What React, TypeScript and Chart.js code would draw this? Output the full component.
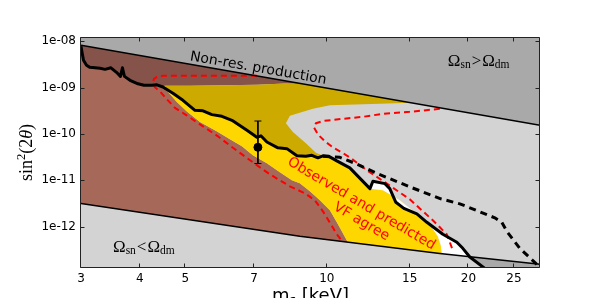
import React, { useEffect, useRef } from "react";
import { Chart, registerables } from "chart.js";

Chart.register(...registerables);

// ---------- axes ----------
const xMin = 3;
const xMax = 28.4;
const yMin = 1.27e-13;
const yMax = 1.24e-8;
const xTickValues = [3, 4, 5, 7, 10, 15, 20, 25];
const yTickValues = [1e-8, 1e-9, 1e-10, 1e-11, 1e-12];
const yTickLabels = ["1e-08", "1e-09", "1e-10", "1e-11", "1e-12"];

// ---------- boundary lines ----------
const topLineX = [3, 28.4];
const topLineY = [8.2e-9, 1.533e-10];

const lowLineX = [3, 8.76, 17.39, 28.4];
const lowLineY = [3.13e-12, 6.14e-13, 2.6e-13, 1.53e-13];

const xrayX = [3.0, 3.015, 3.037, 3.082, 3.134, 3.293, 3.374, 3.474, 3.569, 3.639, 3.675, 3.711, 3.814, 3.966, 4.083, 4.246, 4.352, 4.481, 4.706, 4.942, 5.242, 5.451, 5.696, 5.982, 6.283, 6.761, 7.099, 7.24, 7.455, 7.868, 8.222, 8.636, 9.024, 9.294, 9.57, 9.808, 10.1, 10.5, 11.19, 12.35, 12.53, 13.29, 13.61, 14.02, 14.58, 15.54, 16.32, 17.65, 18.9, 19.46, 20.14, 22.21];
const xrayY = [7.8e-9, 5.79e-9, 3.89e-9, 3.03e-9, 2.74e-9, 2.61e-9, 2.48e-9, 2.68e-9, 2.14e-9, 1.75e-9, 2.68e-9, 1.75e-9, 1.44e-9, 1.21e-9, 1.121e-9, 1.121e-9, 1.15e-9, 1.03e-9, 7.53e-10, 5.32e-10, 3.23e-10, 3.15e-10, 2.61e-10, 2.4e-10, 1.97e-10, 1.196e-10, 8.45e-11, 9.1e-11, 6.68e-11, 5.01e-11, 4.81e-11, 3.37e-11, 3.28e-11, 3.45e-11, 3.05e-11, 3.37e-11, 3.28e-11, 2.62e-11, 1.85e-11, 6.58e-12, 9.47e-12, 8.44e-12, 6.58e-12, 3.33e-12, 2.47e-12, 1.88e-12, 1.232e-12, 6.79e-13, 4.56e-13, 3.38e-13, 2.19e-13, 1.03e-13];

// ---------- region edges ----------
const yellowTopX = [4.525, 5.115, 6.071, 7.099, 8.141, 8.848];
const yellowTopY = [1.094e-9, 1.094e-9, 1.121e-9, 1.149e-9, 1.227e-9, 1.207e-9];
const yellowTopMeetX = 15.01; // where the pale-grey region meets the top line

const grayEdgeX = [12.96, 10.15, 9.339, 8.343, 8.182, 8.468, 9.024, 9.478];
const grayEdgeY = [4.51e-10, 4.15e-10, 3.48e-10, 2.46e-10, 1.694e-10, 1.099e-10, 6.27e-11, 3.91e-11];

const brownEdgeX = [4.525, 4.592, 4.792, 5.031, 5.372, 5.83, 6.222, 6.597, 6.96, 7.455, 7.945, 8.427, 8.76, 9.203, 9.665, 10.15, 10.5, 10.76, 11.08];
const brownEdgeY = [1.094e-9, 8.11e-10, 4.93e-10, 3.08e-10, 1.807e-10, 1.138e-10, 7.64e-11, 5.4e-11, 3.45e-11, 2.32e-11, 1.481e-11, 9.95e-12, 8.57e-12, 5.76e-12, 3.68e-12, 2.24e-12, 1.232e-12, 7.87e-13, 4.57e-13];

const whiteEdgeX = [13.16, 14.3, 15.62, 16.64, 17.22, 17.47, 17.56];
const whiteEdgeY = [6.05e-12, 3.68e-12, 1.789e-12, 1.01e-12, 6.14e-13, 3.93e-13, 2.57e-13];

// ---------- contours ----------
const red1X = [7.1, 4.48, 4.352, 4.289, 4.268, 4.309, 4.416, 4.57, 4.752, 5.014, 5.451, 5.867, 6.313, 6.96, 7.565, 8.343, 8.98, 9.43, 9.808, 10.2, 10.5, 10.82];
const red1Y = [1.798e-9, 1.798e-9, 1.711e-9, 1.549e-9, 1.301e-9, 1.015e-9, 8.32e-10, 5.59e-10, 3.66e-10, 2.585e-10, 1.459e-10, 8.87e-11, 5.01e-11, 2.435e-11, 1.341e-11, 7.38e-12, 5.22e-12, 3.68e-12, 2.13e-12, 1.115e-12, 6.79e-13, 4.56e-13];

const red2X = [17.39, 15.01, 13.16, 11.93, 10.82, 9.808, 9.478, 9.385, 9.57, 9.904, 10.3, 11.19, 12.17, 13.42, 15.01, 16.8, 17.39, 17.99, 18.26, 18.53];
const red2Y = [3.48e-10, 3.0e-10, 2.72e-10, 2.34e-10, 2.12e-10, 1.9e-10, 1.694e-10, 1.388e-10, 9.8e-11, 6.92e-11, 5.14e-11, 3.12e-11, 1.636e-11, 8.44e-12, 3.87e-12, 1.361e-12, 9.61e-13, 6.79e-13, 4.56e-13, 3.06e-13];

const blackDashX = [9.808, 10.66, 11.47, 12.84, 15.09, 17.47, 19.18, 21.15, 22.76, 23.56, 24.14, 25.72, 27.96];
const blackDashY = [3.28e-11, 3.12e-11, 2.32e-11, 1.374e-11, 7.03e-12, 3.96e-12, 3.09e-12, 2.08e-12, 1.541e-12, 1.232e-12, 7.87e-13, 3.38e-13, 1.527e-13];

// ---------- measurement ----------
const pointX = 7.135;
const pointY = 5.14e-11;
const errLow = 2.29e-11;
const errHigh = 1.9e-10;

// ---------- annotations ----------
const nonResText = "Non-res. production";
const nonResX = 7.1;
const omegaHighX = 18.08;
const omegaHighY = 2.93e-9;
const omegaLowX = 3.509;
const omegaLowY = 2.81e-13;
const vfLine1 = "Observed and predicted";
const vfLine1X = 11.84;
const vfLine1Y = 3.09e-12;
const vfLine2 = "VF agree";
const vfLine2X = 11.84;
const vfLine2Y = 1.263e-12;
const vfAngleDeg = 30.5;

// ---------- colours ----------
const C_DARKGRAY = "#a9a9a9";
const C_LIGHTGRAY = "#d3d3d3";
const C_DARKBROWN = "#85534a";
const C_LIGHTBROWN = "#a66959";
const C_DARKYELLOW = "#ccaa00";
const C_GOLD = "#ffd700";
const C_WHITE = "#ffffff";
const C_RED = "#ff0000";

type P = { x: number; y: number };
const zip = (xs: number[], ys: number[]): P[] => xs.map((x, i) => ({ x, y: ys[i] }));

function logInterp(xs: number[], ys: number[], x: number): number {
  let i = 0;
  while (i < xs.length - 2 && x > xs[i + 1]) i++;
  const x0 = Math.log10(xs[i]);
  const x1 = Math.log10(xs[i + 1]);
  const y0 = Math.log10(ys[i]);
  const y1 = Math.log10(ys[i + 1]);
  const t = (Math.log10(x) - x0) / (x1 - x0);
  return Math.pow(10, y0 + t * (y1 - y0));
}

function along(xs: number[], ys: number[], a: number, b: number): P[] {
  const lo = Math.min(a, b);
  const hi = Math.max(a, b);
  const out: P[] = [{ x: lo, y: logInterp(xs, ys, lo) }];
  xs.forEach((x, i) => {
    if (x > lo && x < hi) out.push({ x, y: ys[i] });
  });
  out.push({ x: hi, y: logInterp(xs, ys, hi) });
  return a <= b ? out : out.reverse();
}

function buildConfig(): any {
  const topAt = (x: number) => logInterp(topLineX, topLineY, x);
  const xray0 = xrayX[0];
  const xrayYellowStart = 4.481;
  const xrayGrayEnd = 9.808;
  const xrayWhiteStart = 12.35;
  const xrayLowCross = 20.14;
  const xrayLast = xrayX[xrayX.length - 1];
  const brownLow = brownEdgeX[brownEdgeX.length - 1];
  const whiteLow = whiteEdgeX[whiteEdgeX.length - 1];

  const topGray: P[] = [
    { x: xMin, y: topAt(xMin) },
    { x: xMax, y: topAt(xMax) },
    { x: xMax, y: yMax * 3 },
    { x: xMin, y: yMax * 3 },
  ];
  const bottomGray: P[] = [
    ...along(lowLineX, lowLineY, xrayLowCross, xMax),
    { x: xMax, y: yMin * 0.7 },
    ...along(xrayX, xrayY, xrayLast, xrayLowCross),
  ];
  const lightBrown: P[] = [
    ...along(xrayX, xrayY, xray0, xrayYellowStart),
    ...zip(brownEdgeX, brownEdgeY),
    ...along(lowLineX, lowLineY, brownLow, xMin),
  ];
  const yt = zip(yellowTopX, yellowTopY);
  const darkBrown: P[] = [
    ...along(topLineX, topLineY, xMin, yellowTopX[yellowTopX.length - 1]),
    ...yt.slice().reverse(),
    ...along(xrayX, xrayY, xrayYellowStart, xray0),
  ];
  const darkYellow: P[] = [
    ...yt,
    ...along(topLineX, topLineY, yellowTopX[yellowTopX.length - 1], yellowTopMeetX),
    ...zip(grayEdgeX, grayEdgeY),
    ...along(xrayX, xrayY, xrayGrayEnd, xrayYellowStart),
  ];
  const gold: P[] = [
    ...along(xrayX, xrayY, xrayYellowStart, xrayWhiteStart),
    ...zip(whiteEdgeX, whiteEdgeY),
    ...along(lowLineX, lowLineY, whiteLow, brownLow),
    ...zip(brownEdgeX, brownEdgeY).reverse(),
  ];
  const white: P[] = [
    ...along(xrayX, xrayY, xrayWhiteStart, xrayLowCross),
    ...along(lowLineX, lowLineY, xrayLowCross, whiteLow),
    ...zip(whiteEdgeX, whiteEdgeY).reverse(),
  ];

  const poly = (label: string, data: P[], color: string) => ({
    label,
    data,
    showLine: true,
    fill: "shape",
    backgroundColor: color,
    borderColor: "rgba(0,0,0,0)",
    borderWidth: 0,
    pointRadius: 0,
    pointHoverRadius: 0,
    tension: 0,
  });
  const line = (label: string, data: P[], color: string, width: number, dash: number[] = []) => ({
    label,
    data,
    showLine: true,
    fill: false,
    borderColor: color,
    backgroundColor: color,
    borderWidth: width,
    borderDash: dash,
    borderJoinStyle: "round",
    borderCapStyle: "butt",
    pointRadius: 0,
    pointHoverRadius: 0,
    tension: 0,
    clip: 0,
  });

  // back to front
  const layers: any[] = [
    poly("top gray", topGray, C_DARKGRAY),
    poly("bottom gray", bottomGray, C_DARKGRAY),
    poly("light brown", lightBrown, C_LIGHTBROWN),
    poly("dark brown", darkBrown, C_DARKBROWN),
    poly("dark yellow", darkYellow, C_DARKYELLOW),
    poly("gold", gold, C_GOLD),
    poly("white", white, C_WHITE),
    line("red contour 1", zip(red1X, red1Y), C_RED, 2, [6, 4]),
    line("red contour 2", zip(red2X, red2Y), C_RED, 2, [6, 4]),
    line("black dashed", zip(blackDashX, blackDashY), "#000", 3, [7, 5]),
    line("non-res", zip(topLineX, topLineY), "#000", 1.5),
    line("omega low", zip(lowLineX, lowLineY), "#000", 1.5),
    line("x-ray", zip(xrayX, xrayY), "#000", 3),
    {
      label: "error",
      data: [
        { x: pointX, y: errHigh },
        { x: pointX, y: errLow },
      ],
      showLine: true,
      fill: false,
      borderColor: "#000",
      borderWidth: 1,
      pointStyle: "line",
      pointRadius: 3.5,
      pointBorderWidth: 1,
      pointBorderColor: "#000",
      pointHoverRadius: 0,
    },
    {
      label: "point",
      data: [{ x: pointX, y: pointY }],
      showLine: false,
      pointRadius: 4,
      pointBackgroundColor: "#000",
      pointBorderColor: "#000",
      pointHoverRadius: 0,
    },
  ];
  const n = layers.length;
  layers.forEach((d, i) => (d.order = n - i));

  const tickFont = { family: "'DejaVu Sans'", size: 12 };

  const plugin = {
    id: "decor",
    beforeDraw(chart: any) {
      const { ctx, chartArea: a } = chart;
      ctx.save();
      ctx.fillStyle = C_LIGHTGRAY;
      ctx.fillRect(a.left, a.top, a.right - a.left, a.bottom - a.top);
      ctx.restore();
    },
    afterDatasetsDraw(chart: any) {
      const { ctx } = chart;
      const xs = chart.scales.x;
      const ys = chart.scales.y;
      const px = (v: number) => xs.getPixelForValue(v);
      const py = (v: number) => ys.getPixelForValue(v);

      // Non-res. production, along the top line
      const ang = Math.atan2(
        py(topLineY[1]) - py(topLineY[0]),
        px(topLineX[1]) - px(topLineX[0])
      );
      ctx.save();
      ctx.translate(px(nonResX), py(topAt(nonResX)));
      ctx.rotate(ang);
      ctx.font = "14px 'DejaVu Sans'";
      ctx.fillStyle = "#000";
      ctx.textAlign = "center";
      ctx.textBaseline = "alphabetic";
      ctx.fillText(nonResText, 0, -4);
      ctx.restore();

      // Omega labels
      const drawOmega = (x0: number, y0: number, rel: string) => {
        const parts = [
          { t: "Ω", s: 17, dy: 0, gap: 0 },
          { t: "sn", s: 11.5, dy: 2, gap: 1 },
          { t: rel, s: 17, dy: 0, gap: 1 },
          { t: "Ω", s: 17, dy: 0, gap: 0 },
          { t: "dm", s: 11.5, dy: 2, gap: 0 },
        ];
        let cx = x0;
        ctx.save();
        ctx.fillStyle = "#000";
        ctx.textAlign = "left";
        ctx.textBaseline = "alphabetic";
        for (const p of parts) {
          ctx.font = `${p.s}px 'Liberation Serif'`;
          ctx.fillText(p.t, cx, y0 + p.dy);
          cx += ctx.measureText(p.t).width + p.gap;
        }
        ctx.restore();
      };
      drawOmega(px(omegaHighX), py(omegaHighY), ">");
      drawOmega(px(omegaLowX), py(omegaLowY), "<");

      // VF agree text
      const rot = (vfAngleDeg * Math.PI) / 180;
      ctx.save();
      ctx.fillStyle = C_RED;
      ctx.font = "14px 'DejaVu Sans'";
      ctx.textAlign = "center";
      ctx.textBaseline = "middle";
      for (const [t, x, y] of [
        [vfLine1, vfLine1X, vfLine1Y],
        [vfLine2, vfLine2X, vfLine2Y],
      ] as [string, number, number][]) {
        ctx.save();
        ctx.translate(px(x), py(y));
        ctx.rotate(rot);
        ctx.fillText(t, 0, 0);
        ctx.restore();
      }
      ctx.restore();
    },
    afterDraw(chart: any) {
      const { ctx, chartArea: a } = chart;
      const xs = chart.scales.x;
      const ys = chart.scales.y;
      ctx.save();
      ctx.strokeStyle = "#222";
      ctx.lineWidth = 1;
      ctx.beginPath();
      const L = Math.round(a.left) - 0.5;
      const R = Math.round(a.right) - 0.5;
      const T = Math.round(a.top) + 0.5;
      const B = Math.round(a.bottom) - 0.5;
      ctx.rect(L, T, R - L, B - T);
      const tl = 4;
      for (const v of xTickValues) {
        const x = Math.round(xs.getPixelForValue(v)) - 0.5;
        ctx.moveTo(x, B);
        ctx.lineTo(x, B - tl);
        ctx.moveTo(x, T);
        ctx.lineTo(x, T + tl);
      }
      for (const v of yTickValues) {
        const y = Math.round(ys.getPixelForValue(v)) + 0.5;
        ctx.moveTo(L, y);
        ctx.lineTo(L + tl, y);
        ctx.moveTo(R, y);
        ctx.lineTo(R - tl, y);
      }
      ctx.stroke();

      // axis titles
      ctx.fillStyle = "#000";
      ctx.textBaseline = "alphabetic";
      ctx.textAlign = "left";
      const xParts = [
        { t: "m", s: 18, dy: 0 },
        { t: "s", s: 12.6, dy: 3 },
        { t: " [keV]", s: 18, dy: 0 },
      ];
      let w = 0;
      for (const p of xParts) {
        ctx.font = `${p.s}px 'DejaVu Sans'`;
        w += ctx.measureText(p.t).width;
      }
      let cx = (a.left + a.right) / 2 - w / 2;
      const by = a.bottom + 33;
      for (const p of xParts) {
        ctx.font = `${p.s}px 'DejaVu Sans'`;
        ctx.fillText(p.t, cx, by + p.dy);
        cx += ctx.measureText(p.t).width;
      }

      const yParts = [
        { t: "sin", s: 18, dy: 0, it: false },
        { t: "2", s: 12.6, dy: -7, it: false },
        { t: "(2", s: 18, dy: 0, it: false },
        { t: "θ", s: 18, dy: 0, it: true },
        { t: ")", s: 18, dy: 0, it: false },
      ];
      const fontOf = (p: any) => `${p.it ? "italic " : ""}${p.s}px 'Liberation Serif'`;
      w = 0;
      for (const p of yParts) {
        ctx.font = fontOf(p);
        w += ctx.measureText(p.t).width;
      }
      ctx.translate(32, (a.top + a.bottom) / 2);
      ctx.rotate(-Math.PI / 2);
      cx = -w / 2;
      for (const p of yParts) {
        ctx.font = fontOf(p);
        ctx.fillText(p.t, cx, p.dy);
        cx += ctx.measureText(p.t).width;
      }
      ctx.restore();
    },
  };

  return {
    type: "scatter",
    data: { datasets: layers },
    options: {
      responsive: false,
      animation: false,
      devicePixelRatio: 1,
      events: [],
      layout: { padding: { top: 37, right: 58, left: 0, bottom: 0 } },
      plugins: {
        legend: { display: false },
        tooltip: { enabled: false },
        title: { display: false },
      },
      scales: {
        x: {
          type: "logarithmic",
          min: xMin,
          max: xMax,
          bounds: "data",
          grid: { display: false, drawTicks: false },
          border: { display: false },
          afterBuildTicks: (s: any) => {
            s.ticks = xTickValues.map((v) => ({ value: v }));
          },
          afterFit: (s: any) => {
            s.height = 30;
          },
          ticks: {
            autoSkip: false,
            maxRotation: 0,
            minRotation: 0,
            padding: 4,
            color: "#000",
            font: tickFont,
            callback: (v: any) => String(v),
          },
        },
        y: {
          type: "logarithmic",
          min: yMin,
          max: yMax,
          bounds: "data",
          grid: { display: false, drawTicks: false },
          border: { display: false },
          afterBuildTicks: (s: any) => {
            s.ticks = yTickValues.map((v) => ({ value: v }));
          },
          afterFit: (s: any) => {
            s.width = 81;
          },
          ticks: {
            autoSkip: false,
            padding: 5,
            color: "#000",
            font: tickFont,
            callback: (v: any) => {
              const i = yTickValues.findIndex(
                (t) => Math.abs(Math.log10(t) - Math.log10(Number(v))) < 1e-6
              );
              return i >= 0 ? yTickLabels[i] : "";
            },
          },
        },
      },
    },
    plugins: [plugin],
  };
}

export default function App() {
  const ref = useRef<HTMLCanvasElement | null>(null);
  useEffect(() => {
    if (!ref.current) return;
    const chart = new Chart(ref.current, buildConfig());
    return () => chart.destroy();
  }, []);
  return (
    <div style={{ position: "fixed", left: 0, top: 0, width: 598, height: 298, background: "#fff" }}>
      <canvas ref={ref} width={598} height={298} style={{ display: "block", width: 598, height: 298 }} />
    </div>
  );
}
